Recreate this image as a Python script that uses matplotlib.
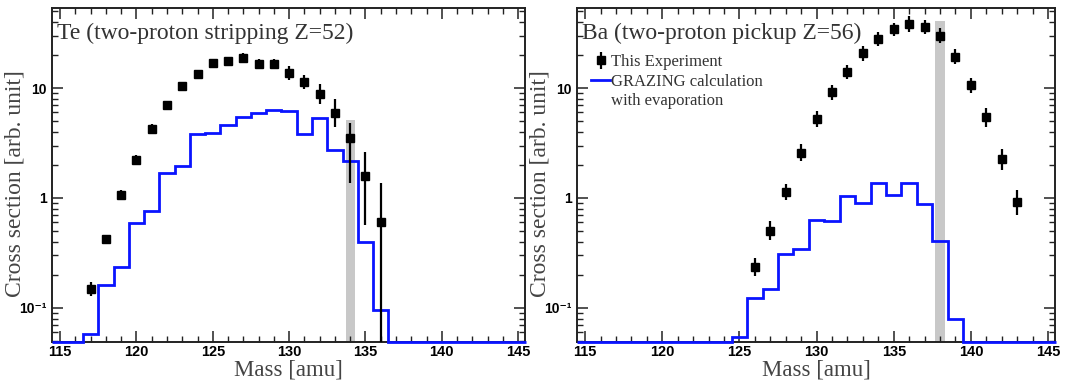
import numpy as np
import matplotlib
matplotlib.use("Agg")
import matplotlib.pyplot as plt
from matplotlib.ticker import LogLocator, FixedLocator, FixedFormatter, MultipleLocator, NullFormatter
from matplotlib.lines import Line2D

# ---------------- data ----------------
# Te (two-proton stripping) - experiment
te_mass = [117, 118, 119, 120, 121, 122, 123, 124, 125, 126, 127, 128, 129, 130, 131, 132, 133, 134, 135, 136]
te_val = [0.149, 0.42, 1.06, 2.2, 4.2, 7.0, 10.4, 13.4, 16.9, 17.6, 18.7, 16.5, 16.5, 13.7, 11.3, 8.8, 5.9, 3.5, 1.58, 0.605]
te_lo = [0.129, 0.386, 0.955, 1.98, 3.78, 6.44, 9.77, 12.6, 15.9, 16.5, 16.8, 14.9, 14.9, 11.8, 9.8, 7.1, 4.4, 1.37, 0.57, 0.03]
te_hi = [0.173, 0.457, 1.18, 2.44, 4.66, 7.6, 11.1, 14.3, 18.0, 18.7, 20.8, 18.3, 18.3, 15.9, 13.1, 10.9, 7.9, 4.8, 2.6, 1.37]
# Te - GRAZING histogram (bins centred on masses 115..145)
hist_mass = list(range(115, 146))
te_grazing = [0, 0, 0.058, 0.162, 0.237, 0.597, 0.767, 1.69, 1.97, 3.82, 3.87, 4.61, 5.41, 5.89, 6.3, 6.17,
              3.79, 5.34, 2.73, 2.18, 0.40, 0.096, 0, 0, 0, 0, 0, 0, 0, 0, 0]
te_band_mass = [134]
te_band_top = [5.1]

# Ba (two-proton pickup) - experiment
ba_mass = [126, 127, 128, 129, 130, 131, 132, 133, 134, 135, 136, 137, 138, 139, 140, 141, 142, 143]
ba_val = [0.234, 0.504, 1.13, 2.58, 5.22, 9.14, 14.1, 20.7, 27.9, 34.1, 37.9, 36.1, 29.9, 19.3, 10.6, 5.42, 2.25, 0.914]
ba_lo = [0.194, 0.413, 0.956, 2.16, 4.42, 7.81, 12.2, 17.7, 24.3, 29.8, 32.1, 31.2, 25.6, 16.5, 9.06, 4.44, 1.81, 0.704]
ba_hi = [0.282, 0.615, 1.336, 3.08, 6.17, 10.7, 16.3, 24.2, 32.0, 39.1, 44.8, 41.8, 35.0, 22.6, 12.4, 6.61, 2.80, 1.19]
ba_grazing = [0, 0, 0, 0, 0, 0, 0, 0, 0, 0, 0.054, 0.122, 0.149, 0.31, 0.341, 0.63, 0.618, 1.04, 0.895,
              1.36, 1.06, 1.36, 0.88, 0.41, 0.079, 0, 0, 0, 0, 0, 0]
ba_band_mass = [138]
ba_band_top = [41.0]

titles = ["Te (two-proton stripping Z=52)", "Ba (two-proton pickup Z=56)"]
ytick_vals = [0.1, 1, 10]
ytick_labels = ["10\u207b\u00b9", "1", "10"]
xtick_vals = [115, 120, 125, 130, 135, 140, 145]

# ---------------- style ----------------
SERIF = "Liberation Serif"
SANS = ["Liberation Sans", "DejaVu Sans"]
BLUE = "#0a14ff"
YMIN, YMAX = 0.049, 53.4
XMIN, XMAX = 114.47, 145.45

fig = plt.figure(figsize=(10.69, 3.81), dpi=100)
ax_l = fig.add_axes([52 / 1069, 39 / 381, 473 / 1069, 334 / 381])
ax_r = fig.add_axes([577 / 1069, 39 / 381, 478 / 1069, 334 / 381])

edges = np.append(np.array(hist_mass) - 0.5, hist_mass[-1] + 0.5)


def draw(ax, mass, val, lo, hi, graz, band_m, band_t, title):
    ax.set_yscale("log")
    ax.set_xlim(XMIN, XMAX)
    ax.set_ylim(YMIN, YMAX)
    # grey band
    ax.bar(band_m, np.array(band_t) - YMIN, bottom=YMIN, width=0.6,
           color="#c8c8c8", edgecolor="none", zorder=1)
    # GRAZING histogram (empty bins drawn along the lower axis edge)
    g = np.maximum(np.array(graz, dtype=float), YMIN)
    st = ax.stairs(g, edges, color=BLUE, lw=2.0, zorder=3, baseline=None)
    st.set_clip_on(False)
    # experiment
    v = np.array(val)
    yerr = np.vstack([v - np.array(lo), np.array(hi) - v])
    eb = ax.errorbar(mass, v, yerr=yerr, fmt="s", color="black", ms=6.2,
                     elinewidth=1.6, capsize=0, zorder=4)
    # axes styling
    for s in ax.spines.values():
        s.set_linewidth(1.4)
        s.set_color("#222222")
    ax.xaxis.set_major_locator(FixedLocator(xtick_vals))
    ax.xaxis.set_minor_locator(MultipleLocator(1))
    ax.yaxis.set_major_locator(FixedLocator(ytick_vals))
    ax.yaxis.set_major_formatter(FixedFormatter(ytick_labels))
    ax.yaxis.set_minor_locator(LogLocator(base=10, subs=np.arange(2, 10), numticks=20))
    ax.yaxis.set_minor_formatter(NullFormatter())
    ax.tick_params(which="both", direction="in", top=True, right=True, color="#222222")
    ax.tick_params(which="major", length=8, width=1.1)
    ax.tick_params(which="minor", length=4.5, width=1.0)
    ax.tick_params(axis="x", which="major", pad=2)
    ax.tick_params(axis="y", which="major", pad=4)
    for lab in ax.get_xticklabels():
        lab.set_fontfamily(SANS)
        lab.set_fontweight("bold")
        lab.set_fontsize(10.5)
    for lab in ax.get_yticklabels():
        lab.set_fontfamily(SANS)
        lab.set_fontweight("bold")
        lab.set_fontsize(10)
    ax.set_ylabel("Cross section [arb. unit]", family=SERIF, fontsize=17, color="#444444")
    ax.yaxis.set_label_coords(-0.056, 0.475)
    ax.set_xlabel("Mass [amu]", family=SERIF, fontsize=16.5, color="#444444")
    ax.xaxis.set_label_coords(0.5, -0.052)
    ax.text(0.011, 0.955, title, transform=ax.transAxes, ha="left", va="top",
            family=SERIF, fontsize=17, color="#333333")
    return eb


draw(ax_l, te_mass, te_val, te_lo, te_hi, te_grazing, te_band_mass, te_band_top, titles[0])
eb_r = draw(ax_r, ba_mass, ba_val, ba_lo, ba_hi, ba_grazing, ba_band_mass, ba_band_top, titles[1])

blue_h = Line2D([], [], color=BLUE, lw=2.0)
blank_h = Line2D([], [], color="none")
leg = ax_r.legend([eb_r, blue_h, blank_h],
                  ["This Experiment", "GRAZING calculation", "with evaporation"],
                  loc="upper left", bbox_to_anchor=(0.03, 0.862), frameon=False,
                  handlelength=1.1, handletextpad=0.1, labelspacing=0.22,
                  borderaxespad=0, borderpad=0,
                  prop={"family": SERIF, "size": 12})
for t in leg.get_texts():
    t.set_color("#333333")

fig.savefig("out.png", dpi=100)
